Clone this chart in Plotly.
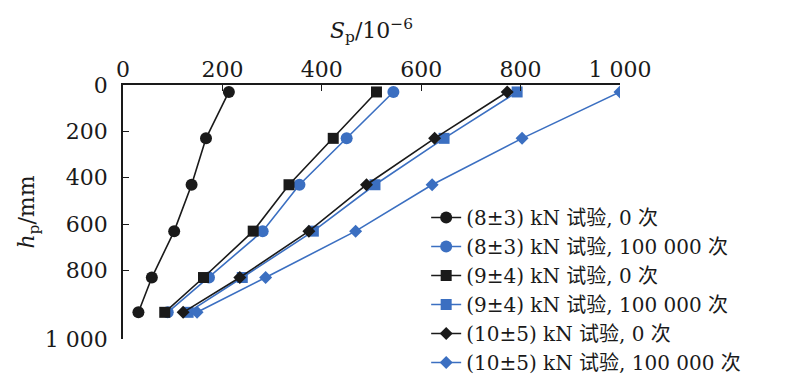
import plotly.graph_objects as go

depth = [30, 230, 430, 630, 830, 980]
s_8_0 = [213, 167, 138, 103, 58, 31]
s_8_1e5 = [544, 450, 355, 281, 173, 90]
s_9_0 = [510, 423, 334, 262, 162, 84]
s_9_1e5 = [793, 646, 507, 383, 240, 131]
s_10_0 = [773, 627, 490, 374, 235, 121]
s_10_1e5 = [1000, 803, 622, 468, 287, 149]

names = [
    "(8±3) kN 试验, 0 次",
    "(8±3) kN 试验, 100 000 次",
    "(9±4) kN 试验, 0 次",
    "(9±4) kN 试验, 100 000 次",
    "(10±5) kN 试验, 0 次",
    "(10±5) kN 试验, 100 000 次",
]
series = [s_8_0, s_8_1e5, s_9_0, s_9_1e5, s_10_0, s_10_1e5]

x_ticks = [0, 200, 400, 600, 800, 1000]
x_ticktext = ["0", "200", "400", "600", "800", "1 000"]
y_ticks = [0, 200, 400, 600, 800, 1095]
y_ticktext = ["0", "200", "400", "600", "800", "1 000"]

BLACK = "#1a1a1a"
BLUE = "#3b6fc1"
colors = [BLACK, BLUE, BLACK, BLUE, BLACK, BLUE]
symbols = ["circle", "circle", "square", "square", "diamond", "diamond"]
sizes = [12, 12, 11, 11, 10, 10]

FONT = "DejaVu Serif, Liberation Serif, Noto Sans CJK SC, serif"

fig = go.Figure()
for nm, vals, c, sym, sz in zip(names, series, colors, symbols, sizes):
    fig.add_trace(go.Scatter(
        x=vals, y=depth, name=nm, mode="lines+markers",
        line=dict(color=c, width=1.6),
        marker=dict(symbol=sym, size=sz, color=c),
    ))

# the page adds an 8 px body margin, so margins are offset by 8 px
fig.update_layout(
    width=800, height=380,
    margin=dict(l=115, r=188, t=77, b=49, autoexpand=False),
    paper_bgcolor="white", plot_bgcolor="white",
    font=dict(family=FONT, size=22, color="#1a1a1a"),
    showlegend=True,
    legend=dict(
        x=0.61, y=0.555, xanchor="left", yanchor="top",
        bgcolor="rgba(0,0,0,0)", font=dict(size=20),
        tracegroupgap=0, itemwidth=30, maxheight=400,
    ),
    xaxis=dict(
        side="top", range=[0, 1000], tickvals=x_ticks, ticktext=x_ticktext,
        showgrid=False, zeroline=False, showline=True, linecolor="#1a1a1a",
        linewidth=1.5, ticks="inside", ticklen=6, tickcolor="#1a1a1a",
        tickfont=dict(size=22), ticklabelstandoff=-3,
        title=dict(text="<i>S</i><sub>p</sub>/10<sup>−6</sup>", font=dict(size=22), standoff=13),
    ),
    yaxis=dict(
        range=[1095, 0], tickvals=y_ticks, ticktext=y_ticktext,
        showgrid=False, zeroline=False, showline=True, linecolor="#1a1a1a",
        linewidth=1.5, ticks="inside", ticklen=6, tickcolor="#1a1a1a",
        tickfont=dict(size=22), ticklabelstandoff=9,
        title=dict(text="<i>h</i><sub>p</sub>/mm", font=dict(size=22), standoff=4),
    ),
)

fig.write_html("out.html")
